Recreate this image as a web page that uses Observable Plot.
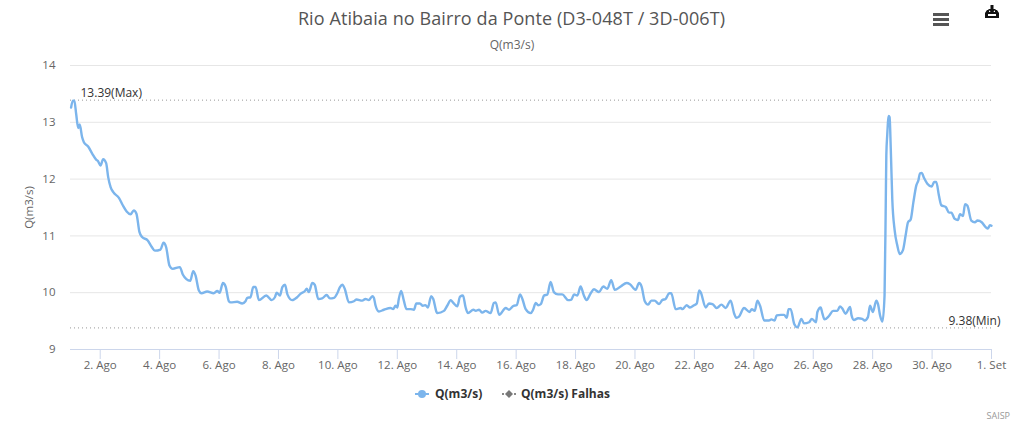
<!DOCTYPE html>
<html><head><meta charset="utf-8">
<script src="https://cdn.jsdelivr.net/npm/d3@7"></script>
<script src="https://cdn.jsdelivr.net/npm/@observablehq/plot@0.6"></script>
<style>
html,body{margin:0;padding:0;background:#fff;width:1015px;height:422px;overflow:hidden;font-family:"Open Sans",sans-serif}
#wrap{position:relative;width:1015px;height:422px}
#title{position:absolute;left:0;width:1023px;top:6px;text-align:center;font-size:18px;color:#555;white-space:nowrap;letter-spacing:.09px}
#sub{position:absolute;left:0;width:1024px;top:36px;text-align:center;font-size:12px;color:#666}
#chart{position:absolute;left:0;top:45px}
#chart svg{display:block}
.leg{position:absolute;top:385px;font-size:12px;font-weight:700;color:#333;white-space:nowrap}
.ico{position:absolute}
#credit{position:absolute;right:5px;top:409px;font-size:9px;color:#999}
</style></head><body>
<div id="wrap">
<div id="title">Rio Atibaia no Bairro da Ponte (D3-048T / 3D-006T)</div>
<div id="sub">Q(m3/s)</div>
<div id="chart"></div>
<svg class="ico" style="left:933px;top:12px" width="16" height="14"><g fill="#555"><rect y="1" width="16" height="3"/><rect y="6" width="16" height="3"/><rect y="11" width="16" height="3"/></g></svg>
<svg class="ico" style="left:984px;top:4px" width="16" height="16"><path d="M1 9 L3 6 H5 V8 H11 V6 H13 L15 9 V14 H1 Z M4 10 V12 H12 V10 Z" fill="#111" fill-rule="evenodd"/><path d="M6.5 1 H9.5 V5 H12 L8 9.5 L4 5 H6.5 Z" fill="#111"/></svg>
<svg class="ico" style="left:414px;top:389px" width="16" height="10"><line x1="1" x2="15" y1="5" y2="5" stroke="#7cb5ec" stroke-width="2"/><circle cx="8" cy="5" r="4" fill="#7cb5ec"/></svg>
<div class="leg" style="left:435px">Q(m3/s)</div>
<svg class="ico" style="left:501px;top:389px" width="16" height="10"><line x1="1" x2="15" y1="5" y2="5" stroke="#888" stroke-width="2" stroke-dasharray="2 2"/><path d="M8 1 L12 5 L8 9 L4 5 Z" fill="#777"/></svg>
<div class="leg" style="left:521px">Q(m3/s) Falhas</div>
<div id="credit">SAISP</div>
</div>
<script>
const days = [1.02,1.08,1.13,1.19,1.26,1.31,1.39,1.45,1.60,1.73,1.87,1.92,2.01,2.10,2.20,2.27,2.35,2.44,2.63,2.76,2.89,3.02,3.13,3.22,3.32,3.41,3.60,3.73,3.84,4.03,4.13,4.22,4.33,4.44,4.68,4.78,4.90,5.03,5.13,5.21,5.32,5.41,5.60,5.82,5.94,6.02,6.13,6.22,6.33,6.39,6.61,6.78,6.89,6.95,7.06,7.15,7.23,7.34,7.59,7.77,7.88,7.94,8.05,8.13,8.22,8.30,8.46,8.63,8.74,8.89,8.95,9.02,9.14,9.22,9.34,9.47,9.62,9.73,9.87,9.98,10.07,10.15,10.23,10.37,10.54,10.63,10.82,10.93,11.04,11.16,11.21,11.27,11.38,11.55,11.77,11.86,11.94,12.00,12.05,12.13,12.22,12.31,12.45,12.56,12.64,12.76,12.86,12.95,13.03,13.14,13.21,13.32,13.35,13.57,13.68,13.80,13.87,14.02,14.11,14.21,14.30,14.38,14.56,14.64,14.75,14.86,14.97,15.14,15.25,15.31,15.43,15.65,15.76,15.91,16.02,16.13,16.21,16.32,16.49,16.57,16.66,16.74,16.83,16.94,17.05,17.16,17.27,17.41,17.55,17.75,17.86,17.95,18.06,18.17,18.28,18.37,18.51,18.62,18.79,18.93,19.07,19.20,19.32,19.52,19.72,19.83,20.02,20.14,20.22,20.33,20.44,20.55,20.66,20.81,20.92,21.03,21.15,21.22,21.37,21.54,21.60,21.74,21.85,21.99,22.08,22.16,22.21,22.38,22.49,22.61,22.75,22.91,23.05,23.22,23.34,23.41,23.50,23.67,23.86,23.93,24.03,24.12,24.21,24.35,24.51,24.59,24.70,24.77,24.91,25.02,25.11,25.17,25.24,25.36,25.47,25.60,25.69,25.86,25.95,26.09,26.14,26.25,26.31,26.38,26.53,26.67,26.81,26.90,26.98,27.09,27.24,27.29,27.37,27.51,27.65,27.73,27.84,27.91,28.01,28.12,28.18,28.25,28.33,28.40,28.44,28.46,28.49,28.54,28.57,28.61,28.66,28.74,28.83,28.91,29.02,29.11,29.19,29.28,29.37,29.47,29.54,29.59,29.65,29.73,29.84,29.99,30.07,30.14,30.23,30.31,30.46,30.57,30.65,30.76,30.87,30.94,31.04,31.11,31.19,31.32,31.44,31.53,31.67,31.81,31.88,31.95,32.00];
const flow = [13.26,13.38,13.38,13.15,12.90,12.96,12.74,12.65,12.57,12.45,12.34,12.32,12.24,12.35,12.28,12.03,11.86,11.77,11.67,11.54,11.43,11.38,11.45,11.39,11.07,10.98,10.92,10.81,10.74,10.76,10.88,10.80,10.48,10.42,10.45,10.32,10.24,10.21,10.38,10.30,10.04,9.99,10.02,9.99,10.03,10.00,10.17,10.11,9.85,9.83,9.84,9.81,9.85,9.91,9.92,10.10,10.10,9.87,9.95,9.87,9.92,10.00,9.95,10.10,10.14,9.97,9.87,9.92,9.98,10.03,10.07,10.01,10.17,10.14,9.89,9.90,9.96,9.90,9.91,9.99,10.10,10.14,10.07,9.83,9.85,9.88,9.86,9.89,9.87,9.94,9.91,9.77,9.67,9.70,9.73,9.71,9.77,9.74,9.89,10.03,9.86,9.71,9.71,9.70,9.81,9.81,9.77,9.78,9.74,9.94,9.89,9.66,9.64,9.68,9.77,9.87,9.83,9.76,9.93,9.95,9.74,9.64,9.70,9.68,9.70,9.65,9.68,9.64,9.82,9.83,9.61,9.73,9.70,9.77,9.78,9.97,9.89,9.71,9.64,9.70,9.82,9.78,9.80,9.95,9.97,10.19,10.01,9.97,9.97,9.87,9.88,9.97,9.95,10.11,9.95,9.87,9.99,10.06,10.01,10.11,10.07,10.22,10.05,10.11,10.17,10.15,10.05,10.17,10.11,9.85,9.79,9.86,9.86,9.80,9.87,9.89,9.99,9.99,9.71,9.73,9.71,9.78,9.74,9.78,9.81,10.04,10.01,9.74,9.81,9.80,9.73,9.79,9.73,9.86,9.63,9.56,9.58,9.73,9.66,9.71,9.68,9.86,9.77,9.51,9.51,9.53,9.51,9.60,9.61,9.61,9.56,9.71,9.71,9.45,9.39,9.54,9.46,9.48,9.54,9.48,9.66,9.74,9.63,9.53,9.59,9.68,9.68,9.76,9.72,9.63,9.75,9.60,9.52,9.55,9.54,9.51,9.57,9.77,9.66,9.86,9.80,9.60,9.49,9.95,11.53,12.42,12.77,13.11,13.09,12.53,11.65,11.10,10.83,10.68,10.75,11.01,11.24,11.29,11.59,11.89,11.98,12.10,12.11,12.02,11.92,11.87,11.95,11.95,11.71,11.54,11.51,11.41,11.41,11.30,11.28,11.38,11.35,11.56,11.53,11.27,11.24,11.27,11.24,11.15,11.13,11.19,11.18];
const tickDays = [2,4,6,8,10,12,14,16,18,20,22,24,26,28,30,32];
const tickLabels = ["2. Ago","4. Ago","6. Ago","8. Ago","10. Ago","12. Ago","14. Ago","16. Ago","18. Ago","20. Ago","22. Ago","24. Ago","26. Ago","28. Ago","30. Ago","1. Set"];
const yTicks = [9,10,11,12,13,14];
const maxValue = 13.39, minValue = 9.38;
const maxLabel = "13.39(Max)", minLabel = "9.38(Min)";
const yTitle = "Q(m3/s)";

const toDate = d => new Date(Date.UTC(2020,7,1) + (d-1)*864e5);
const series = days.map((d,i)=>({t:toDate(d), q:flow[i]}));
const start = toDate(1), end = toDate(32);
const font = '"Open Sans",sans-serif';

const plot = Plot.plot({
  width:1015, height:330,
  marginLeft:70, marginRight:24, marginTop:20, marginBottom:26,
  style:{background:"transparent",fontFamily:font,fontSize:"11px",overflow:"visible"},
  x:{type:"utc",domain:[start,end],range:[70,991]},
  y:{domain:[9,14],range:[304,20]},
  marks:[
    Plot.gridY(yTicks.slice(1),{stroke:"#e6e6e6",strokeOpacity:1,strokeWidth:1}),
    Plot.ruleY([9],{stroke:"#ccd6eb",strokeWidth:1}),
    Plot.axisY({ticks:yTicks,tickSize:0,tickPadding:15,fill:"#666",fontSize:11.5,label:yTitle,labelAnchor:"center",labelArrow:"none",labelOffset:46,tickFormat:d=>String(d)}),
    Plot.axisX({ticks:tickDays.map(toDate),tickFormat:(d,i)=>tickLabels[i],tickSize:10,tickPadding:1,stroke:"#ccd6eb",fill:"#666",fontSize:11.5,label:null}),
    Plot.ruleY([maxValue,minValue],{stroke:"#999",strokeWidth:1,strokeDasharray:"1 3"}),
    Plot.text([maxLabel],{x:()=>start,y:()=>maxValue,dx:10,dy:-7,textAnchor:"start",fill:"#333",fontSize:12}),
    Plot.text([minLabel],{x:()=>end,y:()=>minValue,dx:9,dy:-7,textAnchor:"end",fill:"#333",fontSize:12}),
    Plot.line(series,{x:"t",y:"q",stroke:"#7cb5ec",strokeWidth:2.4,curve:"monotone-x"})
  ]
});
document.getElementById("chart").appendChild(plot);
</script>
</body></html>
